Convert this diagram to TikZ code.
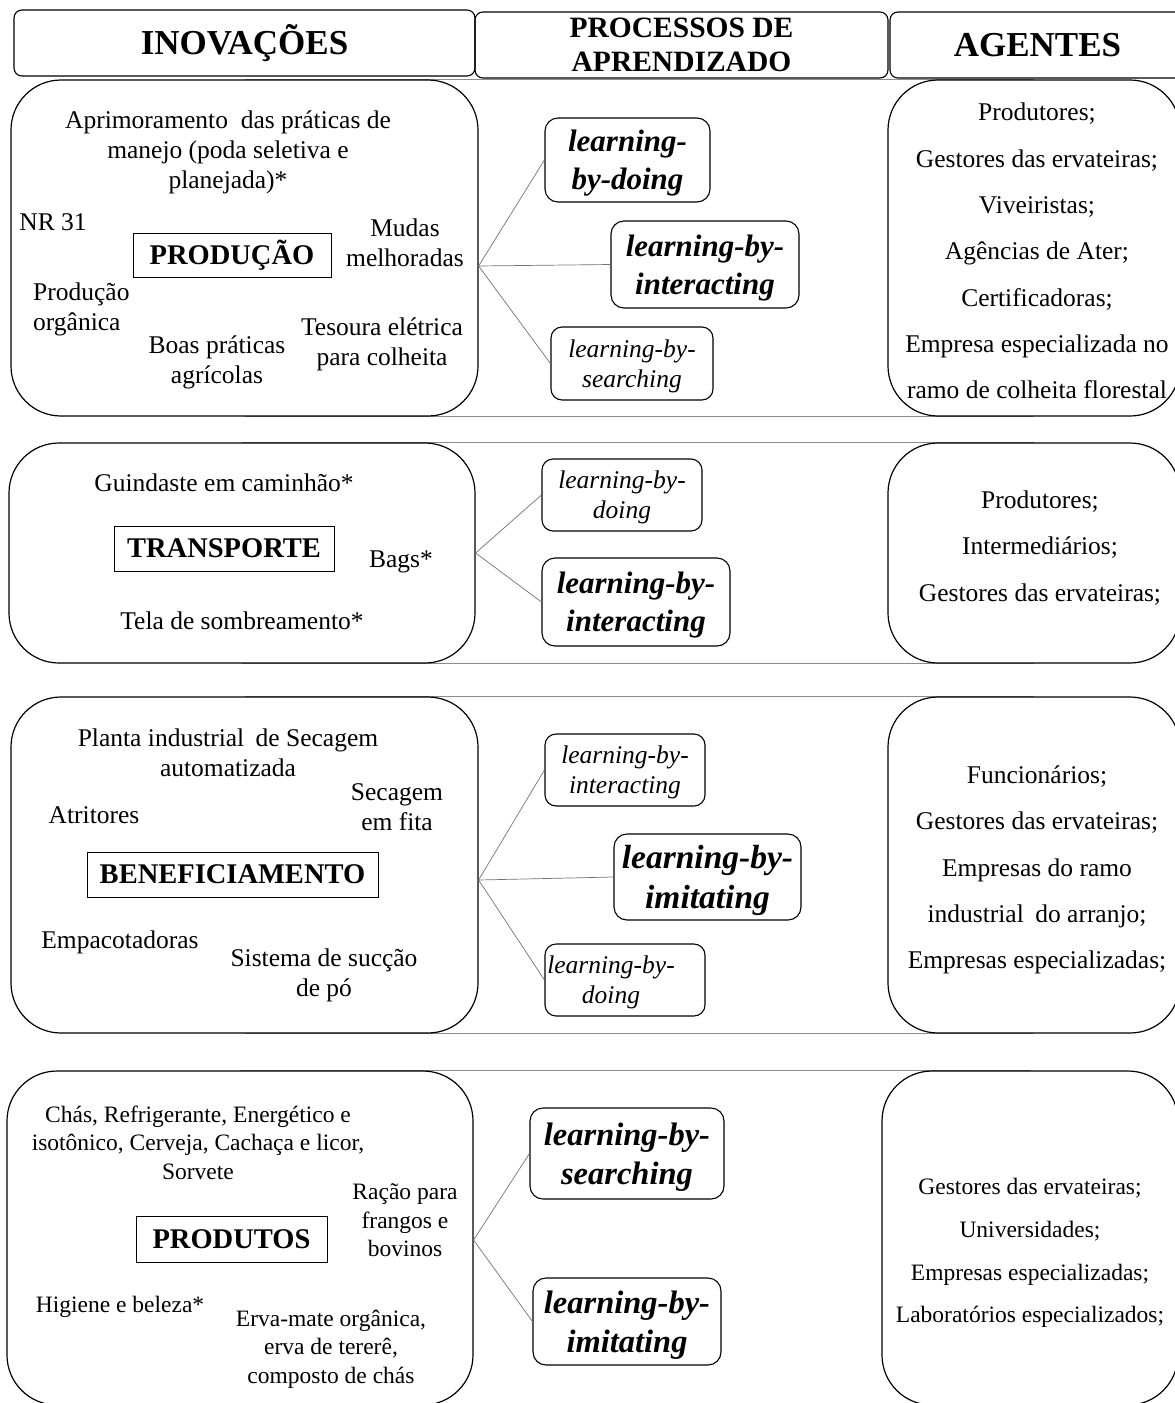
\documentclass[tikz,border=0pt]{standalone}
\usepackage{fontspec}
\setmainfont{Liberation Serif}
\usetikzlibrary{backgrounds}
\begin{document}
\begin{tikzpicture}[x=1pt,y=-1pt,
  hdrbox/.style={draw, line width=1.1pt, rounded corners=8pt, align=center, inner sep=0pt, font=\bfseries\fontsize{35}{36}\selectfont},
  hdrbox2/.style={draw, line width=1.1pt, rounded corners=8pt, align=center, inner sep=0pt, font=\bfseries\fontsize{29.5}{34}\selectfont},
  bigbox/.style={draw, fill=white, line width=1.2pt, rounded corners=50pt},
  cat/.style={draw, line width=1pt, inner sep=0pt, font=\bfseries\fontsize{28.5}{30}\selectfont},
  lbold/.style={draw, fill=white, line width=1.1pt, rounded corners=13pt, align=center, inner sep=0pt, text depth=-3pt, font=\bfseries\itshape\fontsize{31}{38}\selectfont},
  lbig/.style={lbold, font=\bfseries\itshape\fontsize{33.5}{40}\selectfont},
  lital/.style={draw, fill=white, line width=1.1pt, rounded corners=11pt, align=center, inner sep=0pt, text depth=-3pt, font=\itshape\fontsize{25.5}{30}\selectfont},
  txt/.style={align=center, inner sep=0pt, font=\fontsize{25.5}{30}\selectfont},
  agt/.style={align=center, inner sep=0pt, font=\fontsize{25.5}{46.3}\selectfont},
  stxt/.style={align=center, inner sep=0pt, font=\fontsize{23.5}{28.5}\selectfont},
  sagt/.style={align=center, inner sep=0pt, font=\fontsize{23.5}{42.7}\selectfont},
  conn/.style={draw=black!55, line width=0.7pt},
  rowline/.style={draw=black!45, line width=0.9pt}
]
\useasboundingbox (0,0) rectangle (1175,1403);

% headers
\node[hdrbox, minimum width=461pt, minimum height=66pt] (H1) at (244.5,43) {INOVAÇÕES};
\node[hdrbox2, minimum width=413pt, minimum height=66pt] (H2) at (681.5,45) {PROCESSOS DE\\APRENDIZADO};
\node[hdrbox, minimum width=295pt, minimum height=66pt] (H3) at (1037.5,45) {AGENTES};

% ===== Row 1 =====
\node[bigbox, minimum width=467pt, minimum height=336pt] (L1) at (244.5,248) {};
\node[bigbox, minimum width=292pt, minimum height=336pt] (R1) at (1034,248) {};
\node[txt] (a1) at (228,152) {Aprimoramento\hspace{0.25em} das práticas de\\manejo (poda seletiva e\\planejada)*};
\node[txt] (a2) at (53,222) {NR 31};
\node[cat, minimum width=198pt, minimum height=44pt] (P1) at (232,255) {PRODUÇÃO};
\node[txt] (a3) at (405,243) {Mudas\\melhoradas};
\node[txt, align=left, anchor=west] (a4) at (33,309) {Produção\\orgânica};
\node[txt] (a5) at (217,362) {Boas práticas\\agrícolas};
\node[txt] (a6) at (382,344) {Tesoura elétrica\\para colheita};
\node[agt] (g1) at (1037,251) {Produtores;\\Gestores das ervateiras;\\Viveiristas;\\Agências de Ater;\\Certificadoras;\\Empresa especializada no\\ramo de colheita florestal};
\node[lbold, minimum width=165pt, minimum height=84pt] (b11) at (627.5,160) {learning-\\by-doing};
\node[lbold, minimum width=188pt, minimum height=87pt] (b12) at (705,264.5) {learning-by-\\interacting};
\node[lital, minimum width=162pt, minimum height=73pt] (b13) at (632,363.5) {learning-by-\\searching};
\coordinate (o1) at ([yshift=-18pt]L1.east);
\draw[conn] (o1) -- (b11.west);
\draw[conn] (o1) -- (b12.west);
\draw[conn] (o1) -- (b13.west);

% ===== Row 2 =====
\node[bigbox, minimum width=466pt, minimum height=220pt] (L2) at (242,553) {};
\node[bigbox, minimum width=292pt, minimum height=220pt] (R2) at (1034,553) {};
\node[txt] (c1) at (224,483) {Guindaste em caminhão*};
\node[cat, minimum width=220pt, minimum height=45pt] (P2) at (224,548.5) {TRANSPORTE};
\node[txt] (c2) at (401,562) {Bags*};
\node[txt] (c3) at (242,621) {Tela de sombreamento*};
\node[agt] (g2) at (1040,548) {Produtores;\\Intermediários;\\Gestores das ervateiras;};
\node[lital, minimum width=160pt, minimum height=72pt] (b21) at (622,495) {learning-by-\\doing};
\node[lbold, minimum width=188pt, minimum height=88pt] (b22) at (636,602) {learning-by-\\interacting};
\coordinate (o2) at (L2.east);
\draw[conn] (o2) -- (b21.west);
\draw[conn] (o2) -- (b22.west);

% ===== Row 3 =====
\node[bigbox, minimum width=467pt, minimum height=336pt] (L3) at (244.5,865) {};
\node[bigbox, minimum width=292pt, minimum height=336pt] (R3) at (1034,865) {};
\node[txt] (d1) at (228,753) {Planta industrial\hspace{0.2em} de Secagem\\automatizada};
\node[txt] (d2) at (94,815) {Atritores};
\node[txt] (d3) at (397,807) {Secagem\\em fita};
\node[cat, minimum width=291pt, minimum height=45pt] (P3) at (232.5,874.5) {BENEFICIAMENTO};
\node[txt] (d4) at (120,942) {Empacotadoras};
\node[txt] (d5) at (324,975.5) {Sistema de sucção\\de pó};
\node[agt] (g3) at (1037,870) {Funcionários;\\Gestores das ervateiras;\\Empresas do ramo\\industrial\hspace{0.2em} do arranjo;\\Empresas especializadas;};
\node[lital, minimum width=160pt, minimum height=72pt] (b31) at (625,770) {learning-by-\\interacting};
\node[lbig, minimum width=187pt, minimum height=86pt] (b32) at (707.5,877) {learning-by-\\imitating};
\node[lital, minimum width=160pt, minimum height=72pt] (b33) at (625,980) {};
\node[lital, draw=none, fill=none] (b33t) at ([xshift=-14pt]b33.center) {learning-by-\\doing};
\coordinate (o3) at ([yshift=-15pt]L3.east);
\draw[conn] (o3) -- (b31.west);
\draw[conn] (o3) -- (b32.west);
\draw[conn] (o3) -- (b33.west);

% ===== Row 4 =====
\node[bigbox, minimum width=466pt, minimum height=334pt] (L4) at (240,1238) {};
\node[bigbox, minimum width=296pt, minimum height=334pt] (R4) at (1030,1238) {};
\node[stxt] (e1) at (198,1142.5) {Chás, Refrigerante, Energético e\\isotônico, Cerveja, Cachaça e licor,\\Sorvete};
\node[stxt] (e2) at (405,1220.5) {Ração para\\frangos e\\bovinos};
\node[cat, minimum width=191pt, minimum height=46pt] (P4) at (231.5,1239) {PRODUTOS};
\node[stxt] (e3) at (120,1307) {Higiene e beleza*};
\node[stxt] (e4) at (331,1349) {Erva-mate orgânica,\\erva de tererê,\\composto de chás};
\node[sagt] (g4) at (1030,1253) {Gestores das ervateiras;\\Universidades;\\Empresas especializadas;\\Laboratórios especializados;};
\node[lbig, minimum width=194pt, minimum height=91pt, font=\bfseries\itshape\fontsize{32.5}{39}\selectfont] (b41) at (627,1153.5) {learning-by-\\searching};
\node[lbig, minimum width=188pt, minimum height=87pt, font=\bfseries\itshape\fontsize{32.5}{39}\selectfont] (b42) at (627,1321.5) {learning-by-\\imitating};
\coordinate (o4) at ([yshift=-2pt]L4.east);
\draw[conn] (o4) -- (b41.west);
\draw[conn] (o4) -- (b42.west);

% row background lines
\begin{scope}[on background layer]
\draw[rowline] (L1.north) -- (R1.north);
\draw[rowline] (L1.south) -- (R1.south);
\draw[rowline] (L2.north) -- (R2.north);
\draw[rowline] (L2.south) -- (R2.south);
\draw[rowline] (L3.north) -- (R3.north);
\draw[rowline] (L3.south) -- (R3.south);
\draw[rowline] (L4.north) -- (R4.north);
\end{scope}
\end{tikzpicture}
\end{document}
